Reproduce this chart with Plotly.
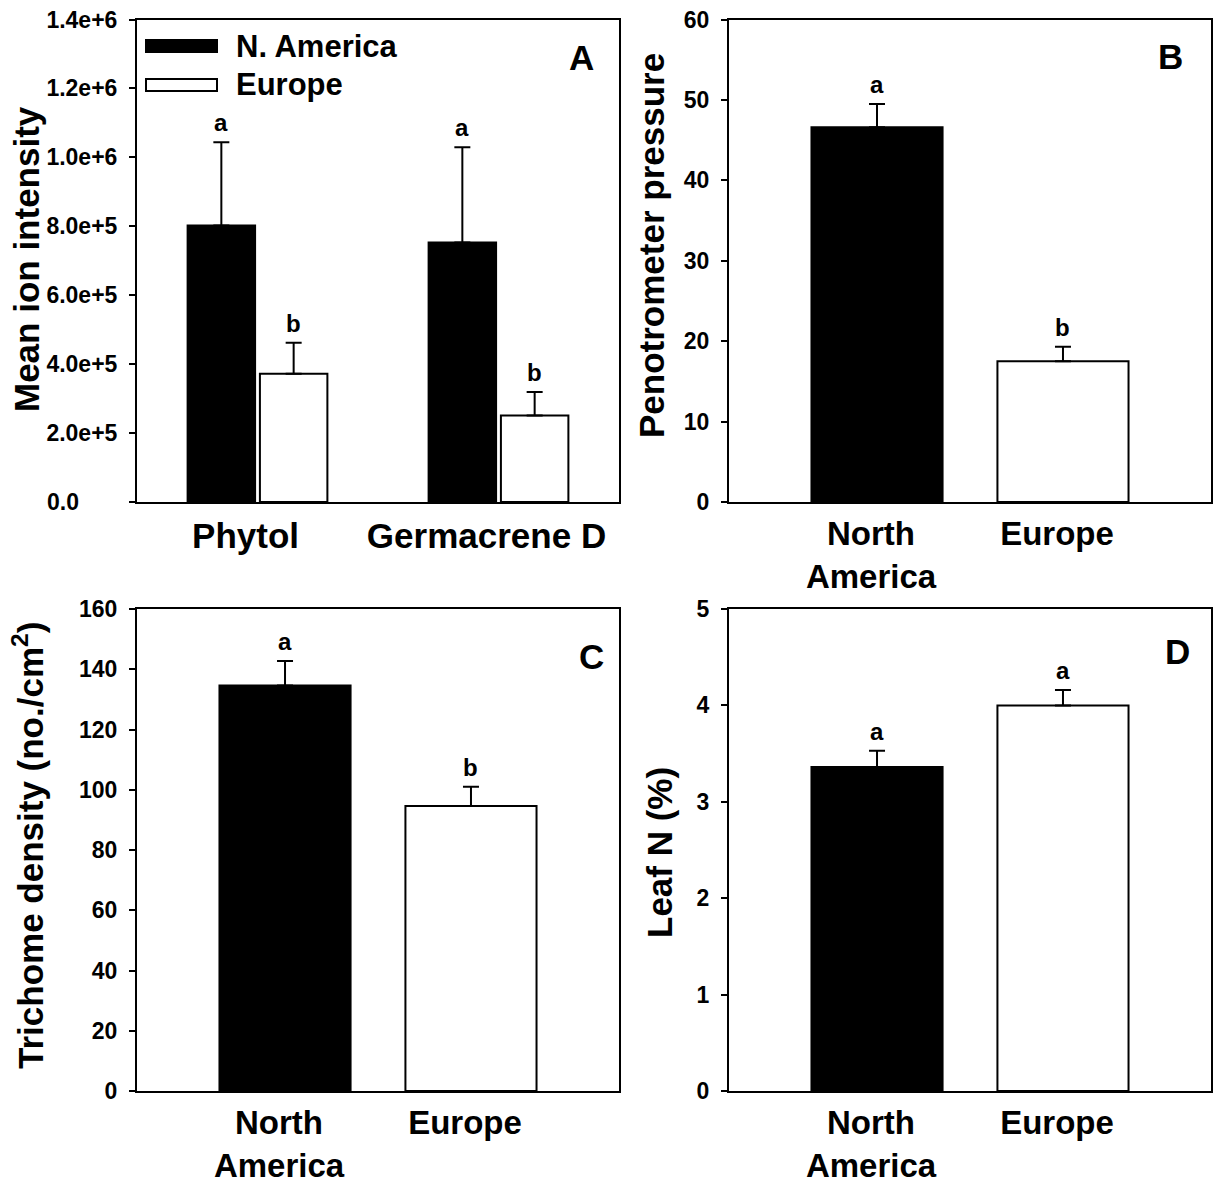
import plotly.graph_objects as go

# ---------------- data ----------------
compounds = ["Phytol", "Germacrene D"]
ion_na = [8.02e5, 7.53e5]
ion_na_err = [2.42e5, 2.76e5]
ion_eu = [3.72e5, 2.51e5]
ion_eu_err = [0.90e5, 0.68e5]
ion_na_letters = ["a", "a"]
ion_eu_letters = ["b", "b"]

regions = ["North<br>America", "Europe"]
pen_vals = [46.6, 17.5]
pen_err = [2.9, 1.8]
pen_letters = ["a", "b"]

tri_vals = [134.6, 94.6]
tri_err = [8.1, 6.4]
tri_letters = ["a", "b"]

leafn_vals = [3.36, 4.00]
leafn_err = [0.17, 0.16]
leafn_letters = ["a", "a"]

ion_ticks = [0, 2e5, 4e5, 6e5, 8e5, 1.0e6, 1.2e6, 1.4e6]
ion_ticktext = ["0.0", "2.0e+5", "4.0e+5", "6.0e+5", "8.0e+5", "1.0e+6", "1.2e+6", "1.4e+6"]
pen_ticks = [0, 10, 20, 30, 40, 50, 60]
tri_ticks = [0, 20, 40, 60, 80, 100, 120, 140, 160]
leafn_ticks = [0, 1, 2, 3, 4, 5]

# ---------------- layout helpers ----------------
W, H = 1217, 1182
FONT = "Liberation Sans, Arial, sans-serif"

def fx(p):
    return p / W

def fy(p):
    return 1 - p / H

# the reference left-aligns the "0.0" label with the longer ones: pad it with figure spaces
ion_ticktext_disp = [t + "\u2007" * 3 if len(t) < 4 else t for t in ion_ticktext]

fig = go.Figure()

def err(vals):
    return dict(type="data", symmetric=False, array=vals, arrayminus=[0] * len(vals),
                thickness=2, width=8, color="black")

BAR_W = 0.28
# Panel A
fig.add_trace(go.Bar(x=compounds, y=ion_na, error_y=err(ion_na_err), width=BAR_W, offset=-0.29,
                     marker=dict(color="black", line=dict(color="black", width=2)),
                     name="N. America", xaxis="x", yaxis="y", showlegend=False))
fig.add_trace(go.Bar(x=compounds, y=ion_eu, error_y=err(ion_eu_err), width=BAR_W, offset=0.01,
                     marker=dict(color="white", line=dict(color="black", width=2)),
                     name="Europe", xaxis="x", yaxis="y", showlegend=False))

SW = 0.705
panels = [("x2", "y2", pen_vals, pen_err), ("x3", "y3", tri_vals, tri_err), ("x4", "y4", leafn_vals, leafn_err)]
for xa, ya, vals, e in panels:
    fig.add_trace(go.Bar(x=regions, y=vals, error_y=err(e), width=SW,
                         marker=dict(color=["black", "white"], line=dict(color="black", width=2)),
                         xaxis=xa, yaxis=ya, showlegend=False))

axis_common = dict(showline=True, mirror=True, linecolor="black", linewidth=2, automargin=False,
                   showgrid=False, zeroline=False, color="black")
xfont = dict(family=FONT, size=35, color="black", weight="bold")
xfont2 = dict(family=FONT, size=33, color="black", weight="bold")
yfont = dict(family=FONT, size=23, color="black", weight="bold")
ytick = dict(ticks="outside", ticklen=6, tickwidth=2, tickcolor="black", tickfont=yfont,
             ticklabelstandoff=7)
xtick = dict(ticks="", tickfont=xfont, ticklabelstandoff=2)
xtick2 = dict(ticks="", tickfont=xfont2, ticklabelstandoff=1, ticklabelshift=-6)

dom_left = [fx(137), fx(619)]
dom_right = [fx(729), fx(1211)]
dom_top = [fy(502), fy(19.5)]
dom_bot = [fy(1091), fy(609)]

fig.update_layout(
    width=W, height=H, margin=dict(l=0, r=0, t=0, b=0, autoexpand=False),
    paper_bgcolor="white", plot_bgcolor="white", showlegend=False,
    xaxis=dict(domain=dom_left, anchor="y", range=[-0.5, 1.5], ticklabelshift=-12, **xtick, **axis_common),
    yaxis=dict(domain=dom_top, anchor="x", range=[0, 1.4e6], tickvals=ion_ticks, ticktext=ion_ticktext_disp,
               **ytick, **axis_common),
    xaxis2=dict(domain=dom_right, anchor="y2", range=[-0.796, 1.796], **xtick2, **axis_common),
    yaxis2=dict(domain=dom_top, anchor="x2", range=[0, 60], tickvals=pen_ticks, **ytick, **axis_common),
    xaxis3=dict(domain=dom_left, anchor="y3", range=[-0.796, 1.796], **xtick2, **axis_common),
    yaxis3=dict(domain=dom_bot, anchor="x3", range=[0, 160], tickvals=tri_ticks, **ytick, **axis_common),
    xaxis4=dict(domain=dom_right, anchor="y4", range=[-0.796, 1.796], **xtick2, **axis_common),
    yaxis4=dict(domain=dom_bot, anchor="x4", range=[0, 5], tickvals=leafn_ticks, **ytick, **axis_common),
)

ann = []
letter_font = dict(family=FONT, size=24, color="black", weight="bold")
# significance letters
for i in range(2):
    ann.append(dict(x=i - 0.15, y=ion_na[i] + ion_na_err[i], xref="x", yref="y", text=ion_na_letters[i],
                    showarrow=False, yanchor="bottom", yshift=4, font=letter_font))
    ann.append(dict(x=i + 0.15, y=ion_eu[i] + ion_eu_err[i], xref="x", yref="y", text=ion_eu_letters[i],
                    showarrow=False, yanchor="bottom", yshift=4, font=letter_font))
for (xa, ya, vals, e), letters in zip(panels, [pen_letters, tri_letters, leafn_letters]):
    for i in range(2):
        ann.append(dict(x=i, y=vals[i] + e[i], xref=xa, yref=ya, text=letters[i],
                        showarrow=False, yanchor="bottom", yshift=4, font=letter_font))

# panel letters
pl_font = dict(family=FONT, size=35, color="black", weight="bold")
for txt, px_, py_ in [("A", 581, 57.5), ("B", 1170, 57), ("C", 591, 657), ("D", 1177, 651)]:
    ann.append(dict(x=fx(px_), y=fy(py_), xref="paper", yref="paper", text=txt, showarrow=False,
                    xanchor="center", yanchor="middle", font=pl_font))

# axis titles
t_font = dict(family=FONT, size=35, color="black", weight="bold")
for txt, px_, py_ in [("Mean ion intensity", 27, 259), ("Penotrometer pressure", 651, 246),
                      ("Trichome density (no./cm<sup>2</sup>)", 28, 846), ("Leaf N (%)", 659, 853)]:
    ann.append(dict(x=fx(px_), y=fy(py_), xref="paper", yref="paper", text=txt, showarrow=False,
                    textangle=-90, xanchor="center", yanchor="middle", font=t_font))

# legend (panel A)
leg_font = dict(family=FONT, size=31, color="black", weight="bold")
shapes = []
for (name, fill, yc) in [("N. America", "black", 46), ("Europe", "white", 85)]:
    shapes.append(dict(type="rect", xref="paper", yref="paper", x0=fx(146), x1=fx(217),
                       y0=fy(yc + 6), y1=fy(yc - 6), fillcolor=fill, line=dict(color="black", width=2)))
    ann.append(dict(x=fx(234), y=fy(yc), xref="paper", yref="paper", text=name, showarrow=False,
                    xanchor="left", yanchor="middle", font=leg_font))

fig.update_layout(annotations=ann, shapes=shapes)
fig.write_html("out.html", config={"responsive": False, "displayModeBar": False},
               post_script="document.body.style.margin='0';document.body.style.overflow='hidden';")
